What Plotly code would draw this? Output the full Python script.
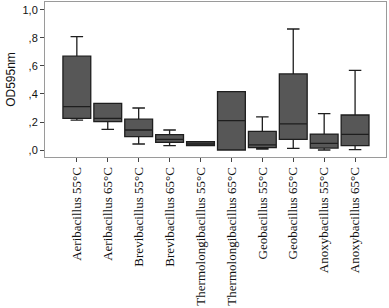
import plotly.graph_objects as go

categories = ["Aeribacillus 55°C", "Aeribacillus 65°C", "Brevibacillus 55°C", "Brevibacillus 65°C",
              "Thermolongibacillus 55°C", "Thermolongibacillus 65°C", "Geobacillus 55°C",
              "Geobacillus 65°C", "Anoxybacillus 55°C", "Anoxybacillus 65°C"]
lower = [0.214, 0.148, 0.043, 0.031, 0.031, 0.0, 0.007, 0.012, 0.0, 0.002]
q1 = [0.226, 0.202, 0.095, 0.055, 0.031, 0.0, 0.017, 0.076, 0.014, 0.031]
median = [0.31, 0.226, 0.143, 0.076, 0.043, 0.21, 0.036, 0.186, 0.048, 0.112]
q3 = [0.67, 0.333, 0.22, 0.11, 0.059, 0.417, 0.133, 0.543, 0.114, 0.25]
upper = [0.81, 0.333, 0.30, 0.143, 0.059, 0.417, 0.236, 0.864, 0.26, 0.569]
ytick_vals = [0, 0.2, 0.4, 0.6, 0.8, 1.0]
ytick_text = [",0", ",2", ",4", ",6", ",8", "1,0"]

fig = go.Figure(go.Box(
    x=categories, q1=q1, median=median, q3=q3, lowerfence=lower, upperfence=upper,
    fillcolor="#575757", line=dict(color="#1e1e1e", width=1.3),
    boxpoints=False, width=0.9, whiskerwidth=0.45, showlegend=False,
))

fig.update_layout(
    width=389, height=308, margin=dict(l=45, r=3, t=2, b=151),
    plot_bgcolor="white", paper_bgcolor="white",
    font=dict(family="Liberation Sans", color="#111"),
)
fig.update_xaxes(
    type="category", range=[-1.03, 10.0], showgrid=False, showline=True, mirror=True,
    linecolor="#9a9a9a", linewidth=1, ticks="outside", ticklen=4, tickcolor="#444",
    tickangle=-90, automargin=False,
    tickfont=dict(family="Liberation Serif, Times New Roman, serif", size=13, color="#111"),
)
fig.update_yaxes(
    range=[-0.05, 1.057], showgrid=False, zeroline=False, showline=True, mirror=True,
    linecolor="#9a9a9a", linewidth=1, ticks="outside", ticklen=4, tickcolor="#444",
    automargin=False,
    tickvals=ytick_vals, ticktext=ytick_text, tickfont=dict(family="Liberation Sans", size=11, color="#111"),
    title=dict(text="OD595nm", font=dict(family="Liberation Sans", size=12, color="#111"), standoff=4),
)
fig.write_html("out.html", config={"displayModeBar": False},
               post_script="document.body.style.margin='0';")
